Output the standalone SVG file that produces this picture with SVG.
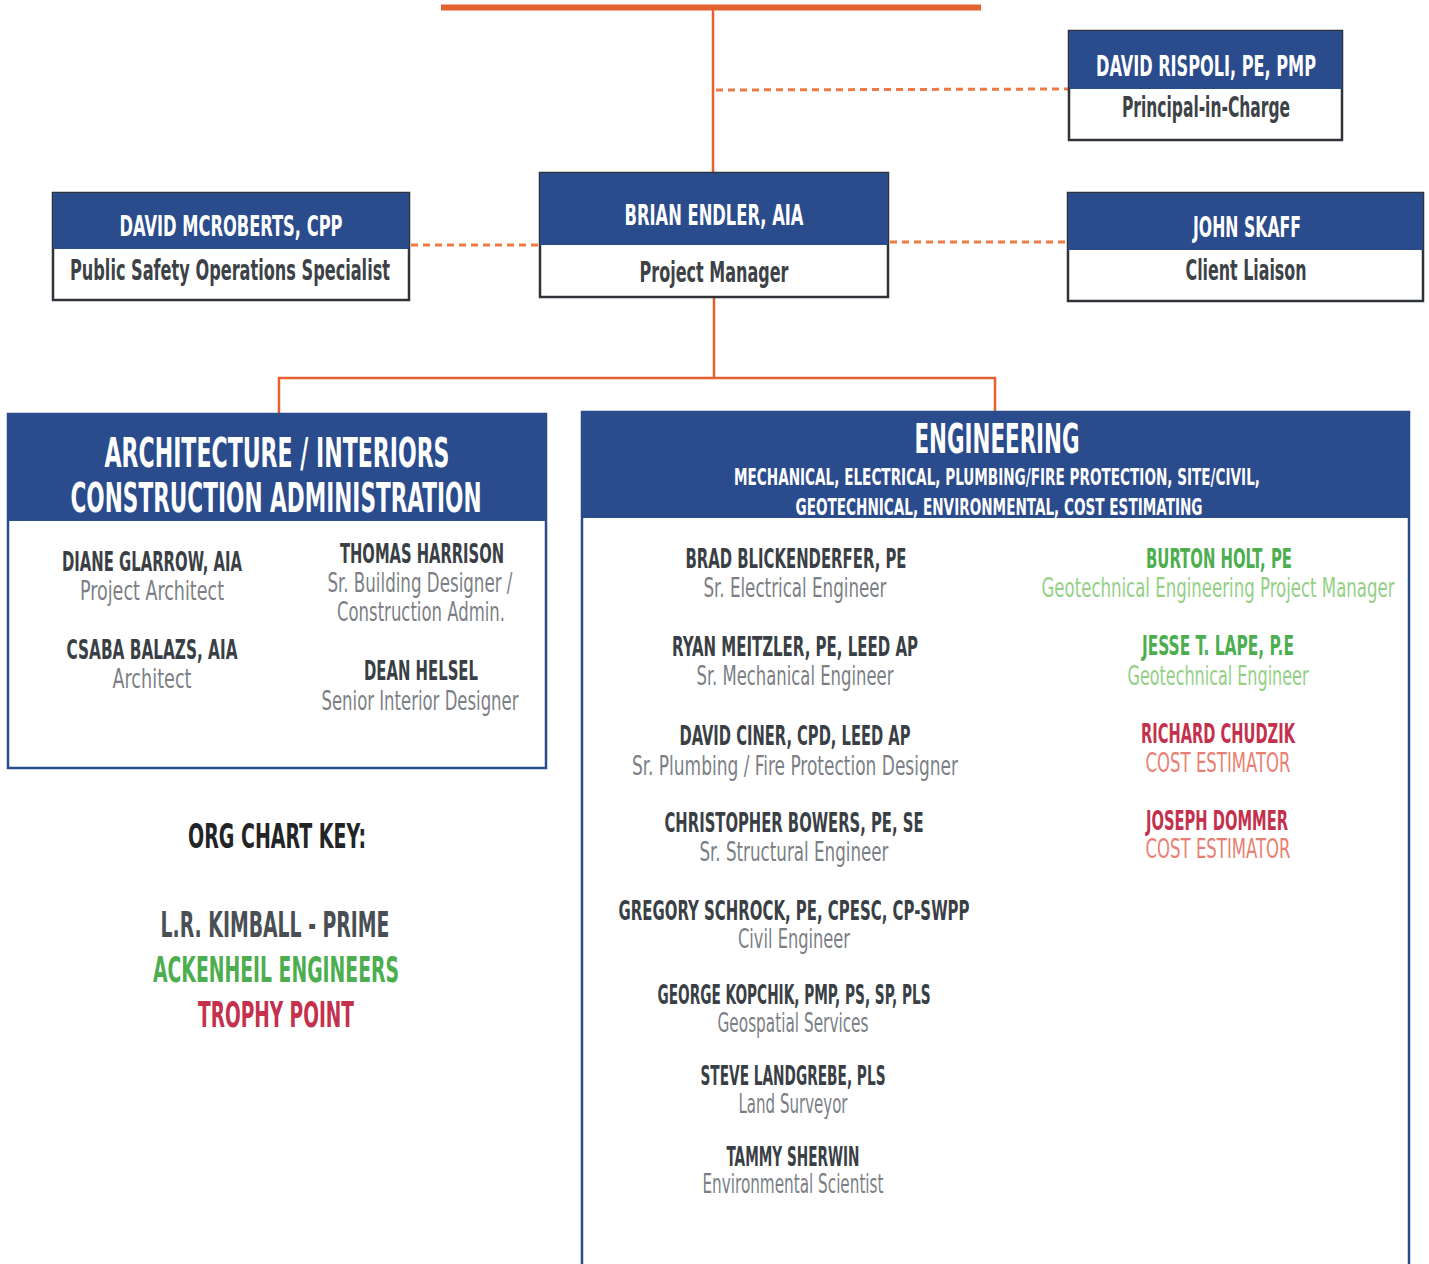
<svg xmlns="http://www.w3.org/2000/svg" width="1429" height="1264" viewBox="0 0 1429 1264">
<style>
text{font-family:"Liberation Sans Narrow","DejaVu Sans Condensed","Liberation Sans",sans-serif;text-anchor:middle;font-weight:bold}
.hd{fill:#ffffff;font-size:28px}
.sub{fill:#3d4247;font-size:28px}
.ttl{fill:#ffffff;font-size:40px}
.ttls{fill:#ffffff;font-size:23px}
.nm{fill:#3a3f45;font-size:26px}
.rl{fill:#7b7f85;font-size:26px;font-weight:normal}
.gnm{fill:#4cae4f;font-size:26px}
.grl{fill:#93d086;font-size:26px;font-weight:normal}
.rnm{fill:#c3314d;font-size:26px}
.rrl{fill:#e97f72;font-size:26px;font-weight:normal}
.key{font-size:35px}
.hdr{fill:#2b4c8c}
.box{fill:#ffffff;stroke:#2f3236;stroke-width:2.5}
.sec{fill:#ffffff;stroke:#2b4c8c;stroke-width:2.5}
.ln{stroke:#e4622f;stroke-width:2.5;fill:none}
.dash{stroke:#ee7b45;stroke-width:3;stroke-dasharray:7 5;fill:none}
</style>
<g id="connectors">
<line x1="441" y1="7.5" x2="981" y2="7.5" stroke="#e4622f" stroke-width="6"/>
<line class="ln" x1="713" y1="10" x2="713" y2="173"/>
<line class="dash" x1="716" y1="90" x2="1069" y2="89"/>
<line class="dash" x1="411" y1="245" x2="540" y2="245"/>
<line class="dash" x1="890" y1="242" x2="1068" y2="242"/>
<polyline class="ln" points="714,297 714,378"/>
<polyline class="ln" points="279,414 279,378 995,378 995,412"/>
</g>
<g id="rispoli">
<rect class="box" x="1069" y="31" width="273" height="109"/>
<rect class="hdr" x="1069" y="31" width="273" height="58"/>
<text class="hd" x="1206" y="76" textLength="220" lengthAdjust="spacingAndGlyphs">DAVID RISPOLI, PE, PMP</text>
<text class="sub" x="1206" y="117" textLength="168" lengthAdjust="spacingAndGlyphs">Principal-in-Charge</text>
</g>
<g id="mcroberts">
<rect class="box" x="53" y="193" width="356" height="107"/>
<rect class="hdr" x="53" y="193" width="356" height="56"/>
<text class="hd" x="231" y="236" textLength="223" lengthAdjust="spacingAndGlyphs">DAVID MCROBERTS, CPP</text>
<text class="sub" x="230" y="280" textLength="320" lengthAdjust="spacingAndGlyphs">Public Safety Operations Specialist</text>
</g>
<g id="endler">
<rect class="box" x="540" y="173" width="348" height="124"/>
<rect class="hdr" x="540" y="173" width="348" height="72"/>
<text class="hd" x="714" y="225" textLength="179" lengthAdjust="spacingAndGlyphs">BRIAN ENDLER, AIA</text>
<text class="sub" x="714" y="282" textLength="149" lengthAdjust="spacingAndGlyphs">Project Manager</text>
</g>
<g id="skaff">
<rect class="box" x="1068" y="193" width="355" height="108"/>
<rect class="hdr" x="1068" y="193" width="355" height="57"/>
<text class="hd" x="1247" y="237" textLength="108" lengthAdjust="spacingAndGlyphs">JOHN SKAFF</text>
<text class="sub" x="1246" y="280" textLength="121" lengthAdjust="spacingAndGlyphs">Client Liaison</text>
</g>
<g id="architecture">
<rect class="sec" x="8" y="414" width="538" height="354"/>
<rect class="hdr" x="8" y="414" width="538" height="107"/>
<text class="ttl" x="277" y="467" textLength="345" lengthAdjust="spacingAndGlyphs">ARCHITECTURE / INTERIORS</text>
<text class="ttl" x="276" y="512" textLength="411" lengthAdjust="spacingAndGlyphs">CONSTRUCTION ADMINISTRATION</text>
<text class="nm" x="152" y="571" textLength="180" lengthAdjust="spacingAndGlyphs">DIANE GLARROW, AIA</text>
<text class="rl" x="152" y="600" textLength="144" lengthAdjust="spacingAndGlyphs">Project Architect</text>
<text class="nm" x="152" y="659" textLength="171" lengthAdjust="spacingAndGlyphs">CSABA BALAZS, AIA</text>
<text class="rl" x="152" y="688" textLength="79" lengthAdjust="spacingAndGlyphs">Architect</text>
<text class="nm" x="422" y="563" textLength="164" lengthAdjust="spacingAndGlyphs">THOMAS HARRISON</text>
<text class="rl" x="420" y="592" textLength="185" lengthAdjust="spacingAndGlyphs">Sr. Building Designer /</text>
<text class="rl" x="421" y="621" textLength="168" lengthAdjust="spacingAndGlyphs">Construction Admin.</text>
<text class="nm" x="421" y="680" textLength="114" lengthAdjust="spacingAndGlyphs">DEAN HELSEL</text>
<text class="rl" x="420" y="710" textLength="197" lengthAdjust="spacingAndGlyphs">Senior Interior Designer</text>
</g>
<g id="key">
<text x="277" y="848" font-size="34" fill="#222426" textLength="178" lengthAdjust="spacingAndGlyphs">ORG CHART KEY:</text>
<text class="key" x="275" y="937" fill="#4a4f56" textLength="229" lengthAdjust="spacingAndGlyphs">L.R. KIMBALL - PRIME</text>
<text class="key" x="276" y="982" fill="#4cae4f" textLength="246" lengthAdjust="spacingAndGlyphs">ACKENHEIL ENGINEERS</text>
<text class="key" x="276" y="1027" fill="#c3314d" textLength="156" lengthAdjust="spacingAndGlyphs">TROPHY POINT</text>
</g>
<g id="engineering">
<path class="sec" d="M582,1266 L582,412 L1409,412 L1409,1266"/>
<rect class="hdr" x="582" y="412" width="827" height="106"/>
<text class="ttl" x="997" y="453" textLength="165" lengthAdjust="spacingAndGlyphs">ENGINEERING</text>
<text class="ttls" x="997" y="485" textLength="526" lengthAdjust="spacingAndGlyphs">MECHANICAL, ELECTRICAL, PLUMBING/FIRE PROTECTION, SITE/CIVIL,</text>
<text class="ttls" x="999" y="515" textLength="407" lengthAdjust="spacingAndGlyphs">GEOTECHNICAL, ENVIRONMENTAL, COST ESTIMATING</text>
<text class="nm" x="796" y="568" textLength="221" lengthAdjust="spacingAndGlyphs">BRAD BLICKENDERFER, PE</text>
<text class="rl" x="795" y="597" textLength="183" lengthAdjust="spacingAndGlyphs">Sr. Electrical Engineer</text>
<text class="nm" x="795" y="656" textLength="246" lengthAdjust="spacingAndGlyphs">RYAN MEITZLER, PE, LEED AP</text>
<text class="rl" x="795" y="685" textLength="197" lengthAdjust="spacingAndGlyphs">Sr. Mechanical Engineer</text>
<text class="nm" x="795" y="745" textLength="231" lengthAdjust="spacingAndGlyphs">DAVID CINER, CPD, LEED AP</text>
<text class="rl" x="795" y="775" textLength="326" lengthAdjust="spacingAndGlyphs">Sr. Plumbing / Fire Protection Designer</text>
<text class="nm" x="794" y="832" textLength="259" lengthAdjust="spacingAndGlyphs">CHRISTOPHER BOWERS, PE, SE</text>
<text class="rl" x="794" y="861" textLength="189" lengthAdjust="spacingAndGlyphs">Sr. Structural Engineer</text>
<text class="nm" x="794" y="920" textLength="351" lengthAdjust="spacingAndGlyphs">GREGORY SCHROCK, PE, CPESC, CP-SWPP</text>
<text class="rl" x="794" y="948" textLength="112" lengthAdjust="spacingAndGlyphs">Civil Engineer</text>
<text class="nm" x="794" y="1004" textLength="273" lengthAdjust="spacingAndGlyphs">GEORGE KOPCHIK, PMP, PS, SP, PLS</text>
<text class="rl" x="793" y="1032" textLength="151" lengthAdjust="spacingAndGlyphs">Geospatial Services</text>
<text class="nm" x="793" y="1085" textLength="185" lengthAdjust="spacingAndGlyphs">STEVE LANDGREBE, PLS</text>
<text class="rl" x="793" y="1113" textLength="109" lengthAdjust="spacingAndGlyphs">Land Surveyor</text>
<text class="nm" x="793" y="1166" textLength="133" lengthAdjust="spacingAndGlyphs">TAMMY SHERWIN</text>
<text class="rl" x="793" y="1193" textLength="181" lengthAdjust="spacingAndGlyphs">Environmental Scientist</text>
<text class="gnm" x="1219" y="568" textLength="146" lengthAdjust="spacingAndGlyphs">BURTON HOLT, PE</text>
<text class="grl" x="1218" y="597" textLength="353" lengthAdjust="spacingAndGlyphs">Geotechnical Engineering Project Manager</text>
<text class="gnm" x="1218" y="655" textLength="152" lengthAdjust="spacingAndGlyphs">JESSE T. LAPE, P.E</text>
<text class="grl" x="1218" y="685" textLength="181" lengthAdjust="spacingAndGlyphs">Geotechnical Engineer</text>
<text class="rnm" x="1218" y="743" textLength="154" lengthAdjust="spacingAndGlyphs">RICHARD CHUDZIK</text>
<text class="rrl" x="1218" y="772" textLength="145" lengthAdjust="spacingAndGlyphs">COST ESTIMATOR</text>
<text class="rnm" x="1217" y="830" textLength="142" lengthAdjust="spacingAndGlyphs">JOSEPH DOMMER</text>
<text class="rrl" x="1218" y="858" textLength="145" lengthAdjust="spacingAndGlyphs">COST ESTIMATOR</text>
</g>
</svg>
